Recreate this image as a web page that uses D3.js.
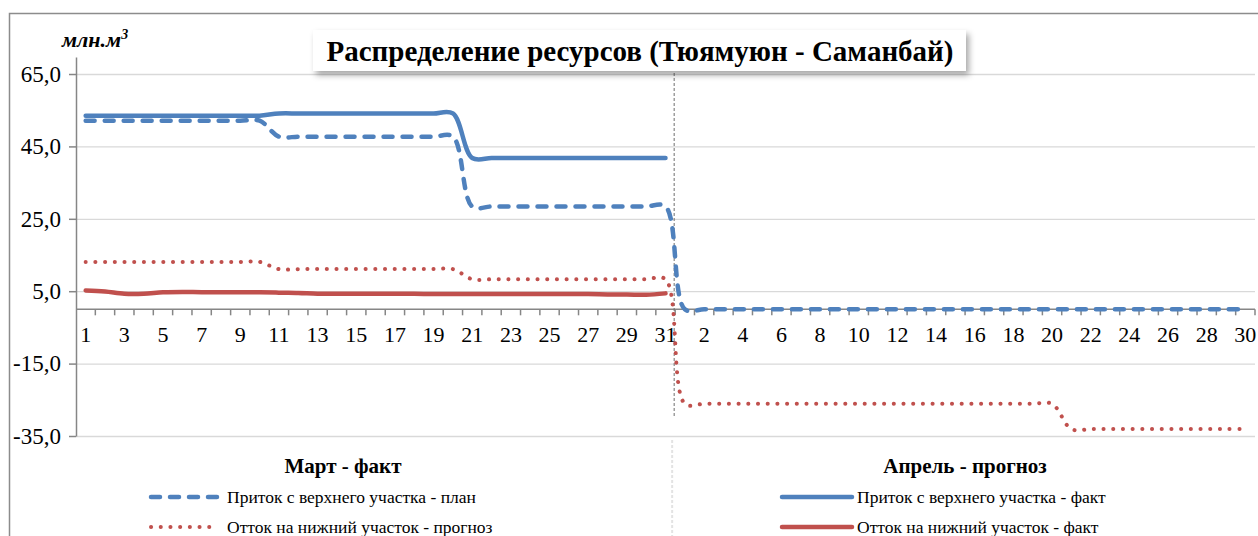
<!DOCTYPE html>
<html>
<head>
<meta charset="utf-8">
<script src="https://cdn.jsdelivr.net/npm/d3@7"></script>
<style>
    html, body { margin: 0; padding: 0; background: #fff; }
    svg { display: block; font-family: "Liberation Serif", "Times New Roman", serif; }
</style>
</head>
<body>
<div id="main"></div>
<script>
// Дни марта и апреля (подписи категорий)
const marchDays = [1, 2, 3, 4, 5, 6, 7, 8, 9, 10, 11, 12, 13, 14, 15, 16, 17, 18, 19, 20,
    21, 22, 23, 24, 25, 26, 27, 28, 29, 30, 31];
const aprilDays = [1, 2, 3, 4, 5, 6, 7, 8, 9, 10, 11, 12, 13, 14, 15, 16, 17, 18, 19, 20,
    21, 22, 23, 24, 25, 26, 27, 28, 29, 30];

const yTicks = [65, 45, 25, 5, -15, -35];

// Приток с верхнего участка - план (март + апрель)
const planInflow = [
    52.1, 52.1, 52.1, 52.1, 52.1, 52.1, 52.1, 52.1, 52.1, 52.1,
    47.7, 47.7, 47.7, 47.7, 47.7, 47.7, 47.7, 47.7, 47.7, 47.7,
    28.4, 28.4, 28.4, 28.4, 28.4, 28.4, 28.4, 28.4, 28.4, 28.4, 28.4,
    0.0, 0.0, 0.0, 0.0, 0.0, 0.0, 0.0, 0.0, 0.0, 0.0,
    0.0, 0.0, 0.0, 0.0, 0.0, 0.0, 0.0, 0.0, 0.0, 0.0,
    0.0, 0.0, 0.0, 0.0, 0.0, 0.0, 0.0, 0.0, 0.0, 0.0
];

// Приток с верхнего участка - факт (только март)
const factInflow = [
    53.5, 53.5, 53.5, 53.5, 53.5, 53.5, 53.5, 53.5, 53.5, 53.5,
    54.1, 54.1, 54.1, 54.1, 54.1, 54.1, 54.1, 54.1, 54.1, 54.1,
    41.8, 41.8, 41.8, 41.8, 41.8, 41.8, 41.8, 41.8, 41.8, 41.8, 41.8
];

// Отток на нижний участок - прогноз
const forecastOutflow = [
    13.1, 13.1, 13.1, 13.1, 13.1, 13.1, 13.1, 13.1, 13.1, 13.1,
    11.1, 11.1, 11.1, 11.1, 11.1, 11.1, 11.1, 11.1, 11.1, 11.1,
    8.3, 8.3, 8.3, 8.3, 8.3, 8.3, 8.3, 8.3, 8.3, 8.3, 8.3,
    -26.1, -26.1, -26.1, -26.1, -26.1, -26.1, -26.1, -26.1, -26.1, -26.1,
    -26.1, -26.1, -26.1, -26.1, -26.1, -26.1, -26.1, -26.1, -26.1, -26.1,
    -33.1, -33.1, -33.1, -33.1, -33.1, -33.1, -33.1, -33.1, -33.1, -33.1
];

// Отток на нижний участок - факт (только март)
const factOutflow = [
    5.2, 4.9, 4.3, 4.3, 4.7, 4.8, 4.7, 4.7, 4.7, 4.7,
    4.6, 4.5, 4.3, 4.3, 4.3, 4.3, 4.3, 4.3, 4.2, 4.2,
    4.2, 4.2, 4.2, 4.2, 4.2, 4.2, 4.2, 4.1, 4.1, 4.0, 4.4
];

const BLUE = "#4F81BD";
const RED = "#C0504D";

class RecursosChart {
    constructor({ width = 1258, height = 536 } = {}) {
        this.w = width;
        this.h = height;
        this.plot = { left: 76, right: 1255, top: 57, bottom: 436 };
        this.svg = null;
    }

    createSvg(selector) {
        this.svg = d3.select(selector)
            .append("svg")
            .attr("width", this.w)
            .attr("height", this.h);

        const defs = this.svg.append("defs");
        defs.append("filter")
            .attr("id", "shadow")
            .attr("x", "-5%").attr("y", "-30%")
            .attr("width", "115%").attr("height", "190%")
            .append("feDropShadow")
            .attr("dx", 3).attr("dy", 4)
            .attr("stdDeviation", 3)
            .attr("flood-color", "#000")
            .attr("flood-opacity", 0.35);
    }

    drawChart() {
        const p = this.plot;
        const labels = marchDays.concat(aprilDays);
        const idx = labels.map((d, i) => i);

        const x = d3.scaleBand()
            .domain(idx)
            .range([p.left, p.right]);

        const y = d3.scaleLinear()
            .domain([-35, 69.7])
            .range([p.bottom, p.top]);

        const fmt = v => v.toFixed(1).replace(".", ",");
        const cx = i => x(i) + x.bandwidth() / 2;

        // рамка диаграммы
        this.svg.append("rect")
            .attr("x", 9.5).attr("y", 13.5)
            .attr("width", 1300).attr("height", 600)
            .attr("fill", "#fff")
            .attr("stroke", "#8c8c8c")
            .attr("stroke-width", 1.5);

        // сетка
        this.svg.append("g")
            .attr("transform", `translate(${p.left},0)`)
            .call(d3.axisLeft(y).tickValues(yTicks).tickSize(-(p.right - p.left)).tickFormat(""))
            .call(g => g.select(".domain").remove())
            .selectAll("line")
            .attr("stroke", "#d9d9d9")
            .attr("stroke-width", 1.3);

        // ось Y
        const yAxis = this.svg.append("g")
            .attr("transform", `translate(${p.left},0)`)
            .call(d3.axisLeft(y).tickValues(yTicks).tickSize(7).tickPadding(8).tickFormat(fmt).tickSizeOuter(0));
        yAxis.select(".domain").attr("stroke", "#868686").attr("stroke-width", 1.5);
        yAxis.selectAll("line").attr("stroke", "#868686").attr("stroke-width", 1.5);
        yAxis.selectAll("text")
            .style("font-family", "Liberation Serif")
            .style("font-size", "23px")
            .attr("fill", "#000");

        // ось X
        const x0 = y(0);
        const xAxis = this.svg.append("g")
            .attr("transform", `translate(0,${x0})`)
            .call(d3.axisBottom(x)
                .tickValues(idx.filter(i => i % 2 === 0))
                .tickSize(0)
                .tickPadding(17)
                .tickFormat(i => labels[i]));
        xAxis.select(".domain").remove();
        xAxis.selectAll("text")
            .style("font-family", "Liberation Serif")
            .style("font-size", "22px")
            .attr("fill", "#000");

        this.svg.append("line")
            .attr("x1", p.left).attr("x2", p.right)
            .attr("y1", x0).attr("y2", x0)
            .attr("stroke", "#868686")
            .attr("stroke-width", 1.5);

        this.svg.append("g")
            .selectAll("line")
            .data(idx.slice(1).concat([idx.length]))
            .join("line")
            .attr("x1", i => p.left + i * x.step())
            .attr("x2", i => p.left + i * x.step())
            .attr("y1", x0)
            .attr("y2", x0 + 6)
            .attr("stroke", "#868686")
            .attr("stroke-width", 1.5);

        // разделитель март / апрель
        const sep = x(marchDays.length);
        this.svg.append("line")
            .attr("x1", sep - 1).attr("x2", sep - 1)
            .attr("y1", 68).attr("y2", 418)
            .attr("stroke", "#6e6e6e")
            .attr("stroke-width", 1)
            .attr("stroke-dasharray", "3,2");

        this.svg.append("line")
            .attr("x1", sep - 3).attr("x2", sep - 3)
            .attr("y1", 440).attr("y2", this.h)
            .attr("stroke", "#e3e3e3")
            .attr("stroke-width", 2)
            .attr("stroke-dasharray", "3,2");

        // линии
        const line = d3.line()
            .defined(d => d != null)
            .x((d, i) => cx(i))
            .y(d => y(d))
            .curve(d3.curveCatmullRom.alpha(0.5));

        const series = [
            { data: factOutflow, color: RED, width: 4.5, dash: null },
            { data: forecastOutflow, color: RED, width: 4, dash: "0.1,9.6" },
            { data: planInflow, color: BLUE, width: 4.5, dash: "9,10" },
            { data: factInflow, color: BLUE, width: 4.5, dash: null }
        ];

        this.svg.append("g")
            .selectAll("path")
            .data(series)
            .join("path")
            .attr("d", s => line(s.data))
            .attr("fill", "none")
            .attr("stroke", s => s.color)
            .attr("stroke-width", s => s.width)
            .attr("stroke-dasharray", s => s.dash)
            .attr("stroke-linecap", "round")
            .attr("stroke-linejoin", "round");

        // заголовок
        const title = this.svg.append("g");
        title.append("rect")
            .attr("x", 313).attr("y", 30)
            .attr("width", 653).attr("height", 41)
            .attr("fill", "#fff")
            .attr("filter", "url(#shadow)");
        title.append("text")
            .attr("x", 640).attr("y", 61)
            .attr("text-anchor", "middle")
            .style("font-size", "29px")
            .style("font-weight", "bold")
            .text("Распределение ресурсов (Тюямуюн - Саманбай)");

        // единицы
        const unit = this.svg.append("text")
            .attr("x", 62).attr("y", 47)
            .style("font-size", "22px")
            .style("font-weight", "bold")
            .style("font-style", "italic")
            .text("млн.м");
        unit.append("tspan")
            .attr("dy", -8)
            .style("font-size", "14px")
            .text("3");

        // легенда
        const legendGroups = [
            { title: "Март - факт", cx: 343, sx: 151, tx: 227,
              items: [
                  { name: "Приток с верхнего участка - план", color: BLUE, width: 4.5, dash: "9,10" },
                  { name: "Отток на нижний участок - прогноз", color: RED, width: 4, dash: "0.1,9.6" }
              ] },
            { title: "Апрель - прогноз", cx: 965, sx: 782, tx: 857,
              items: [
                  { name: "Приток с верхнего участка - факт", color: BLUE, width: 4.5, dash: null },
                  { name: "Отток на нижний участок - факт", color: RED, width: 4.5, dash: null }
              ] }
        ];

        legendGroups.forEach(gr => {
            this.svg.append("text")
                .attr("x", gr.cx).attr("y", 473)
                .attr("text-anchor", "middle")
                .style("font-size", "21px")
                .style("font-weight", "bold")
                .text(gr.title);

            gr.items.forEach((it, k) => {
                const ly = 497 + k * 30;
                this.svg.append("line")
                    .attr("x1", gr.sx).attr("x2", gr.sx + (it.dash && it.width < 4.5 ? 62 : 70))
                    .attr("y1", ly).attr("y2", ly)
                    .attr("stroke", it.color)
                    .attr("stroke-width", it.width)
                    .attr("stroke-dasharray", it.dash)
                    .attr("stroke-linecap", "round");
                this.svg.append("text")
                    .attr("x", gr.tx).attr("y", ly + 6)
                    .style("font-size", "17.5px")
                    .text(it.name);
            });
        });
    }

    run(selector) {
        this.createSvg(selector);
        this.drawChart();
    }
}

window.onload = () => {
    const chart = new RecursosChart({ width: 1258, height: 536 });
    chart.run("#main");
};
</script>
</body>
</html>
